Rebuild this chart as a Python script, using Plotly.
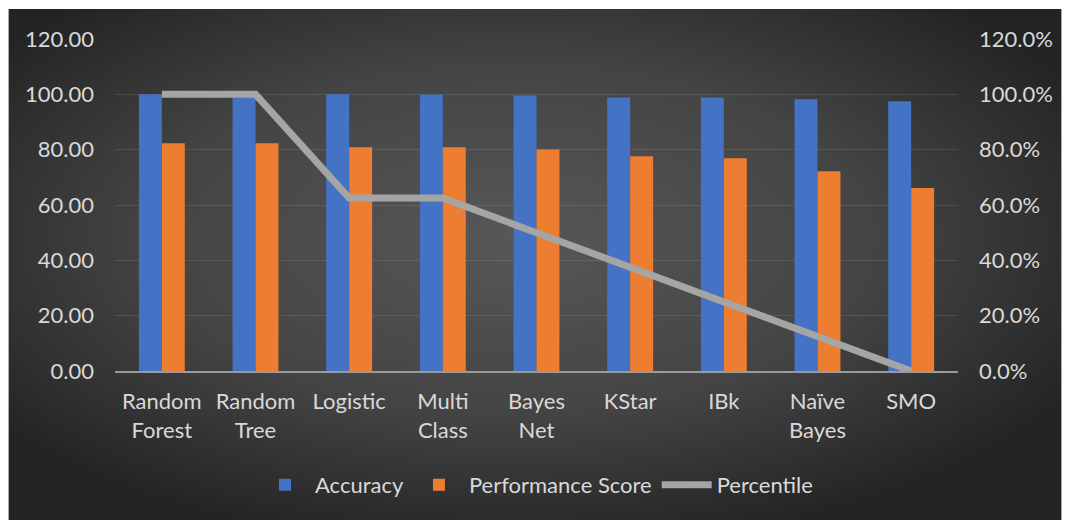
import base64
import plotly.graph_objects as go

categories = ["Random<br>Forest", "Random<br>Tree", "Logistic", "Multi<br>Class", "Bayes<br>Net",
              "KStar", "IBk", "Naïve<br>Bayes", "SMO"]
accuracy = [100.0, 100.0, 100.0, 99.9, 99.6, 98.9, 98.9, 98.2, 97.5]
performance = [82.3, 82.3, 80.9, 80.9, 80.1, 77.6, 76.9, 72.2, 66.1]
percentile = [1.0, 1.0, 0.625, 0.625, 0.5, 0.375, 0.25, 0.125, 0.0]

W, H = 1065, 520
ML, MR, MT, MB = 115, 104, 39, 149
PW, PH = W - ML - MR, H - MT - MB

svg = f'''<svg xmlns="http://www.w3.org/2000/svg" width="1057" height="511" viewBox="0 0 1057 511" preserveAspectRatio="none">
<defs><radialGradient id="g" cx="48%" cy="45%" r="62%">
<stop offset="0%" stop-color="#575757"/><stop offset="55%" stop-color="#444444"/><stop offset="100%" stop-color="#232323"/>
</radialGradient></defs><rect width="1057" height="511" fill="url(#g)"/></svg>'''
src = "data:image/svg+xml;base64," + base64.b64encode(svg.encode()).decode()

font = "Lato, Calibri, sans-serif"
txt = "#d9d9d9"
FS = 22

fig = go.Figure()
fig.add_trace(go.Bar(x=categories, y=accuracy, name="Accuracy", marker=dict(color="#4472c4", line=dict(width=0))))
fig.add_trace(go.Bar(x=categories, y=performance, name="Performance Score", marker=dict(color="#ed7d31", line=dict(width=0))))
fig.add_trace(go.Scatter(x=categories, y=percentile, name="Percentile", yaxis="y2", mode="lines",
                         line=dict(color="#a5a5a5", width=7)))

fig.update_layout(
    width=W, height=H,
    margin=dict(l=ML, r=MR, t=MT, b=MB),
    paper_bgcolor="white", plot_bgcolor="rgba(0,0,0,0)",
    barmode="group", bargap=0.51, bargroupgap=0,
    font=dict(family=font, size=FS, color=txt),
    images=[dict(source=src, xref="paper", yref="paper",
                 x=(8 - ML) / PW, y=(H - MB - 9) / PH,
                 sizex=1057 / PW, sizey=511 / PH,
                 xanchor="left", yanchor="top", sizing="stretch", layer="below")],
    xaxis=dict(showgrid=False, showline=True, linecolor="#9a9a9a", linewidth=2,
               ticks="", tickfont=dict(size=FS, color=txt), ticklabelstandoff=10),
    yaxis=dict(range=[0, 120], dtick=20, tickformat=".2f", showgrid=True,
               gridcolor="rgba(217,217,217,0.13)", gridwidth=1, zeroline=False,
               tickfont=dict(size=FS, color=txt), ticklabelstandoff=20),
    yaxis2=dict(range=[0, 1.2], dtick=0.2, tickformat=".1%", overlaying="y", side="right",
                showgrid=False, zeroline=False, tickfont=dict(size=FS, color=txt), ticklabelstandoff=20),
    legend=dict(orientation="h", x=0.5, xanchor="center", y=(H - MB - 485) / PH, yanchor="middle",
                font=dict(size=FS, color=txt), bgcolor="rgba(0,0,0,0)", itemwidth=50, traceorder="normal"),
)

fig.write_html("out.html")
